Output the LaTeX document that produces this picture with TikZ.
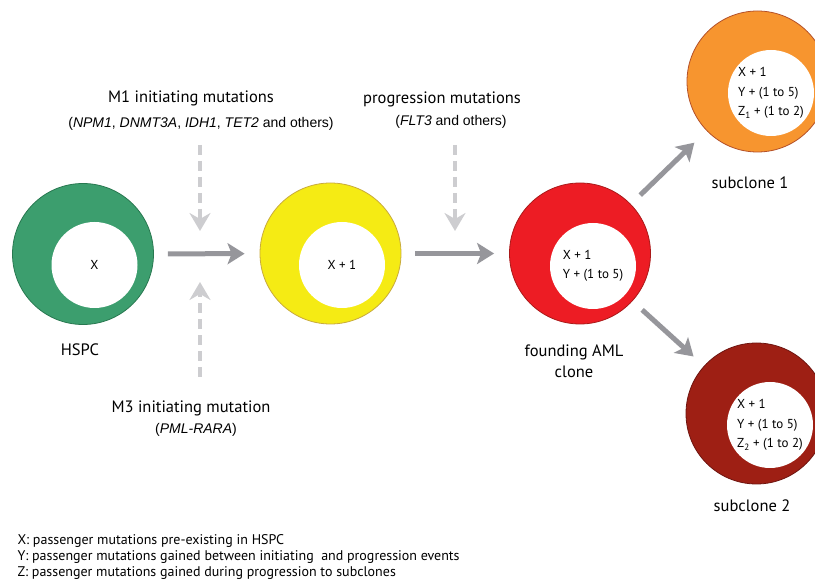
\documentclass[tikz,border=0pt]{standalone}
\usepackage{fontspec}
\setmainfont{PT Sans}
\newfontfamily\arialfont{Liberation Sans}
\usetikzlibrary{arrows.meta}
\definecolor{hspcgreen}{RGB}{60,158,110}
\definecolor{hspcedge}{RGB}{40,120,80}
\definecolor{mgreen}{RGB}{245,235,20}
\definecolor{myellowedge}{RGB}{200,170,60}
\definecolor{amlred}{RGB}{237,28,36}
\definecolor{amledge}{RGB}{170,25,25}
\definecolor{suborange}{RGB}{247,149,47}
\definecolor{suborangeedge}{RGB}{180,80,40}
\definecolor{subdark}{RGB}{158,31,20}
\definecolor{subdarkedge}{RGB}{110,20,15}
\definecolor{flowgray}{RGB}{150,150,155}
\definecolor{hintgray}{RGB}{205,205,208}
\begin{document}
\begin{tikzpicture}[x=1pt, y=-1pt,
  cell/.style={circle, minimum size=141pt, inner sep=0pt, line width=0.8pt},
  core/.style={circle, fill=white, minimum size=86pt, inner sep=0pt, align=left,
    font=\fontsize{13}{19.5}\selectfont},
  flow/.style={line width=5pt, draw=flowgray, -{Stealth[length=17pt, width=21pt, inset=4pt]}},
  hint/.style={line width=4.5pt, draw=hintgray, dash pattern=on 10pt off 6pt,
    -{Stealth[length=18pt, width=21pt, inset=6pt]}},
  lab/.style={font=\fontsize{16.5}{21}\selectfont, align=center},
  gene/.style={font=\arialfont\fontsize{14}{16}\selectfont},
  legend/.style={anchor=west, font=\fontsize{14}{16}\selectfont}]
\useasboundingbox (0,0) rectangle (815,585);
% cells: outer ring + white core
\node[cell, fill=hspcgreen, draw=hspcedge] (hspc) at (83,254) {};
\node[core] (hspcin) at (94.5,265) {X};
\node[cell, fill=mgreen, draw=myellowedge] (m1) at (330.5,253.5) {};
\node[core] (m1in) at (342,265) {X + 1};
\node[cell, fill=amlred, draw=amledge] (aml) at (580,253.5) {};
\node[core] (amlin) at (593,266) {X + 1\\Y + (1 to 5)};
\node[cell, fill=suborange, draw=suborangeedge] (sub1) at (757.5,81.5) {};
\node[core] (sub1in) at (771,93) {X + 1\\Y + (1 to 5)\\Z\textsubscript{1} + (1 to 2)};
\node[cell, fill=subdark, draw=subdarkedge] (sub2) at (756.5,413.5) {};
\node[core] (sub2in) at (770,425) {X + 1\\Y + (1 to 5)\\Z\textsubscript{2} + (1 to 2)};
% cell names
\node[lab] (hspclab) at (80,350) {HSPC};
\node[lab] (amllab) at (574,361) {founding AML\\clone};
\node[lab] (sub1lab) at (750,183) {subclone 1};
\node[lab] (sub2lab) at (752,506) {subclone 2};
% mutation labels
\node[lab] (m1lab) at (191,98) {M1 initiating mutations};
\node[gene] (m1gene) at (201,124) {(\textit{NPM1}, \textit{DNMT3A}, \textit{IDH1}, \textit{TET2} and others)};
\node[lab] (proglab) at (442,99) {progression mutations};
\node[gene] (proggene) at (451,122) {(\textit{FLT3} and others)};
\node[lab] (m3lab) at (191,408) {M3 initiating mutation};
\node[gene] (m3gene) at (196,430) {(\textit{PML-RARA})};
% dashed hints
\coordinate (d1a) at (200,145); \coordinate (d1b) at (200,231);
\coordinate (d2a) at (200,377); \coordinate (d2b) at (200,282);
\coordinate (d3a) at (455,145); \coordinate (d3b) at (455,231);
\draw[hint] (d1a) -- (d1b);
\draw[hint] (d2a) -- (d2b);
\draw[hint] (d3a) -- (d3b);
% clonal flow
\draw[flow, shorten <=14pt, shorten >=15pt] (hspc) -- (m1);
\draw[flow, shorten <=14pt, shorten >=15pt] (m1) -- (aml);
\draw[flow, shorten <=13pt, shorten >=17pt] (aml) -- (sub1);
\draw[flow, shorten <=13pt, shorten >=14pt] (aml) -- (sub2);
% legend
\node[legend] (keyx) at (14,541) {X: passenger mutations pre-existing in HSPC};
\node[legend] (keyy) at (14,557) {Y: passenger mutations gained between initiating \ and progression events};
\node[legend] (keyz) at (14,573) {Z: passenger mutations gained during progression to subclones};
\end{tikzpicture}
\end{document}
